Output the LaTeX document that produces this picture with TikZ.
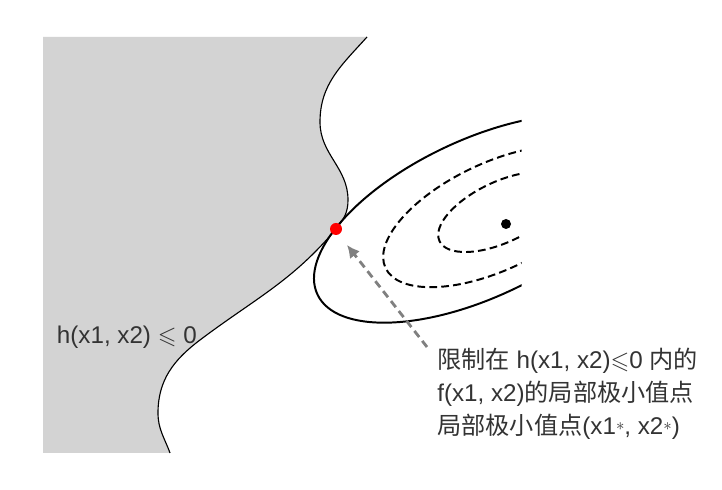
\documentclass[tikz,border=0pt]{standalone}
\usepackage{amssymb}
\usepackage{fontspec}
\setmainfont{Liberation Sans}
\newfontfamily\cjk{Noto Sans CJK SC}
\usetikzlibrary{arrows.meta}
\definecolor{region}{RGB}{211,211,211}
\newcommand\wall{(367,453) to[out=228,in=90] (320,368) to[out=270,in=90] (348,290)
  to[out=270,in=50] (336,261) to[out=230,in=37] (200,150) to[out=217,in=90] (158,77)
  to[out=270,in=110] (170,37)}
\newcommand\opt{\raisebox{0.17em}{$\scriptstyle\ast$}}
\begin{document}
\begin{tikzpicture}[x=0.025cm,y=0.025cm,
    levelset/.style={line width=1.4pt,dash pattern=on 5.5pt off 3pt},
    txt/.style={font=\fontsize{17.2}{23.8}\selectfont,text=black!80,inner sep=0pt}]
  \useasboundingbox[fill=white] (0,0) rectangle (722,490);
  % region h <= 0 and its border
  \fill[region] (43,453) -- \wall -- (43,37) -- cycle;
  \draw[line width=0.8pt] \wall;
  \node[txt,anchor=base west] (hlabel) at (56.7,146.7) {h(x1, x2) $\leqslant$ 0};
  % contours of f
  \begin{scope}
    \clip (0,0) rectangle (521.5,490);
    \draw[line width=1.4pt,rotate around={25.2:(478.5,271.3)}] (478.5,271.3) ellipse (178 and 78.7);
    \draw[levelset,rotate around={25.2:(495,273.5)}] (495,273.5) ellipse (121 and 53.5);
    \draw[levelset,rotate around={25.2:(501.5,278)}] (501.5,278) ellipse (68.5 and 30.3);
  \end{scope}
  \fill (506,266) circle (5);
  \coordinate (touch) at (336,261);
  \fill[red] (touch) circle (6);
  % pointer to the constrained minimum
  \coordinate (tail) at (427,143);
  \coordinate (tip) at (347,245);
  \draw[gray,line width=2pt,dash pattern=on 5.5pt off 3.5pt,-{Latex[length=9pt,width=9pt]}] (tail) -- (tip);
  \node[txt,anchor=base west,align=left] (note) at (437,55)
    {{\cjk 限制在} h(x1, x2)$\leqslant$0 {\cjk 内的}\\f(x1, x2){\cjk 的局部极小值点}\\{\cjk 局部极小值点}(x1\opt, x2\opt)};
\end{tikzpicture}
\end{document}
